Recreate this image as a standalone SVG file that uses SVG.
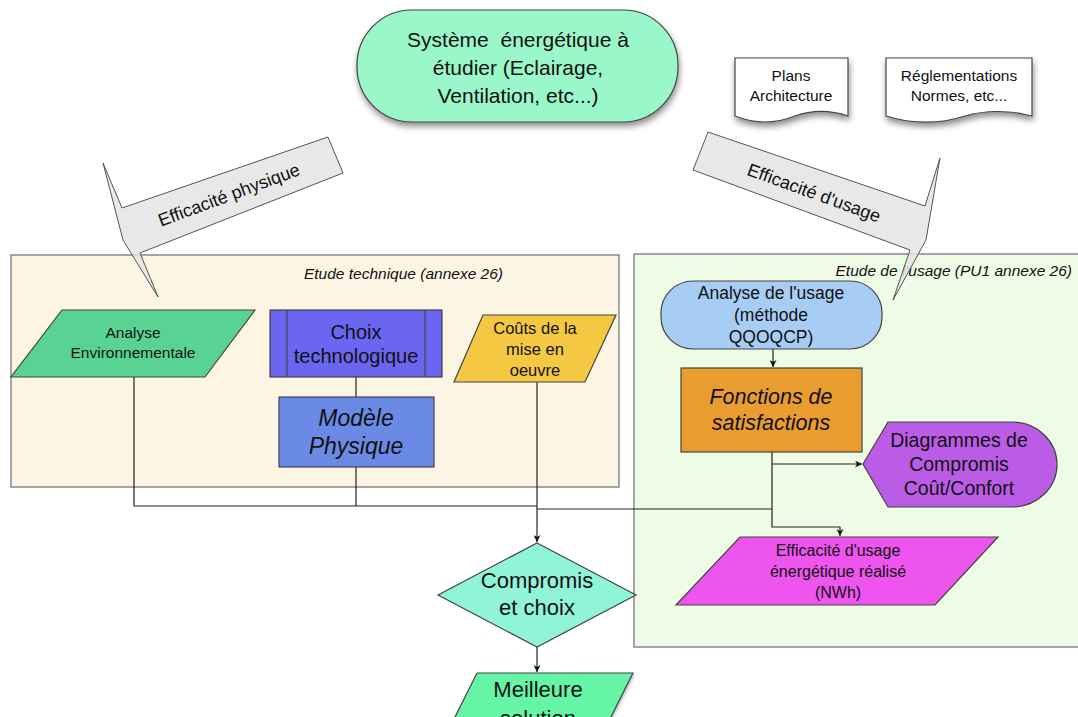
<svg xmlns="http://www.w3.org/2000/svg" width="1078" height="717" viewBox="0 0 1078 717">
<defs>
<style>
text{font-family:"Liberation Sans",Arial,sans-serif;fill:#111;text-anchor:middle}
.it{font-style:italic}
.box{stroke:#444;stroke-width:1.2}
.cont{stroke:#777;stroke-width:1.3}
.conn{fill:none;stroke:#222;stroke-width:1.2}
.call{fill:#e4e4e4;fill-opacity:0.85;stroke:#555;stroke-width:1}
</style>
<filter id="sh" x="-10%" y="-10%" width="130%" height="140%">
<feDropShadow dx="1" dy="4" stdDeviation="3" flood-color="#000" flood-opacity="0.45"/>
</filter>
<filter id="sh2" x="-10%" y="-10%" width="130%" height="140%">
<feDropShadow dx="1" dy="2" stdDeviation="1.5" flood-color="#000" flood-opacity="0.25"/>
</filter>
<marker id="ah" viewBox="0 0 10 10" refX="10" refY="5" markerWidth="7" markerHeight="7" orient="auto" markerUnits="userSpaceOnUse">
<path d="M0,0 L10,5 L0,10 L3,5 Z" fill="#111"/>
</marker>
</defs>

<rect width="1078" height="717" fill="#fff"/>

<!-- containers -->
<g id="etude-technique">
<rect class="cont" x="11" y="255" width="608" height="232" fill="#fdf5e4"/>
<text class="it" x="503" y="279" font-size="15.5" style="text-anchor:end">Etude technique (annexe 26)</text>
</g>
<g id="etude-usage">
<rect class="cont" x="634" y="254" width="460" height="393" fill="#eefce5"/>
<text class="it" x="1072" y="276" font-size="15.5" style="text-anchor:end">Etude de l'usage (PU1 annexe 26)</text>
</g>

<!-- top node -->
<g id="systeme">
<rect class="box" x="357" y="10" width="321" height="112" rx="55" ry="55" fill="#9af7c9" filter="url(#sh)"/>
<text x="518" y="47" font-size="21">Système&#160; énergétique à</text>
<text x="518" y="75" font-size="21">étudier (Eclairage,</text>
<text x="518" y="103" font-size="21">Ventilation, etc...)</text>
</g>

<g id="plans">
<path class="box" d="M735,58 H848 V116 C830,110 812,110 795,116 C775,124 755,124 735,116 Z" fill="#fff" filter="url(#sh)"/>
<text x="791" y="81" font-size="15.5">Plans</text>
<text x="791" y="101" font-size="15.5">Architecture</text>
</g>
<g id="reglementations">
<path class="box" d="M886,58 H1032 V116 C1010,110 985,110 965,116 C940,124 912,124 886,116 Z" fill="#fff" filter="url(#sh)"/>
<text x="959" y="81" font-size="15.5">Réglementations</text>
<text x="959" y="101" font-size="15.5">Normes, etc...</text>
</g>

<!-- callouts -->
<g id="efficacite-physique">
<polygon class="call" points="103,163 122,208 328,137 343,173 140,253 158,297 123,240"/>
<text x="229" y="201" font-size="18" transform="rotate(-20.5 229 195)">Efficacité physique</text>
</g>
<g id="efficacite-usage">
<polygon class="call" points="708,132 925,206 940,158 926,240 893,300 910,250 693,170"/>
<text x="814" y="199" font-size="18" transform="rotate(20 814 193)">Efficacité d'usage</text>
</g>

<!-- connectors -->
<g id="connectors">
<path class="conn" d="M134,377 V506 H537"/>
<path class="conn" d="M356,377 V397"/>
<path class="conn" d="M356,467 V506"/>
<path class="conn" d="M537,382 V542" marker-end="url(#ah)"/>
<path class="conn" d="M772,452 V527 H840 V536" marker-end="url(#ah)"/>
<path class="conn" d="M772,509 H537"/>
<path class="conn" d="M772,464 H862" marker-end="url(#ah)"/>
<path class="conn" d="M773,349 V367" marker-end="url(#ah)"/>
<path class="conn" d="M537,647 V672" marker-end="url(#ah)"/>
</g>

<!-- technique nodes -->
<g id="analyse-env">
<polygon class="box" points="62,310 255,310 205,377 11,377" fill="#58d393"/>
<text x="133" y="338" font-size="15.5">Analyse</text>
<text x="133" y="358" font-size="15.5">Environnementale</text>
</g>
<g id="choix-techno">
<rect class="box" x="270" y="310" width="172" height="67" fill="#6b66f2"/>
<line class="box" x1="287" y1="310" x2="287" y2="377"/>
<line class="box" x1="425" y1="310" x2="425" y2="377"/>
<text x="356" y="339" font-size="20">Choix</text>
<text x="356" y="363" font-size="20">technologique</text>
</g>
<g id="modele-physique">
<rect class="box" x="279" y="397" width="155" height="70" fill="#6b8ae6"/>
<text class="it" x="356" y="426" font-size="23">Modèle</text>
<text class="it" x="356" y="454" font-size="23">Physique</text>
</g>
<g id="couts">
<polygon class="box" points="483,315 616,315 585,382 454,382" fill="#f5c842"/>
<text x="535" y="334" font-size="16.5">Coûts de la</text>
<text x="535" y="355" font-size="16.5">mise en</text>
<text x="535" y="376" font-size="16.5">oeuvre</text>
</g>

<!-- usage nodes -->
<g id="analyse-usage">
<rect class="box" x="661" y="281" width="221" height="68" rx="32" ry="32" fill="#a7cdf5"/>
<text x="771" y="299" font-size="17.5">Analyse de l'usage</text>
<text x="771" y="321" font-size="17.5">(méthode</text>
<text x="771" y="343" font-size="17.5">QQOQCP)</text>
</g>
<g id="fonctions">
<rect class="box" x="681" y="368" width="181" height="84" fill="#e99c30"/>
<text class="it" x="771" y="404" font-size="21.5">Fonctions de</text>
<text class="it" x="771" y="430" font-size="21.5">satisfactions</text>
</g>
<g id="diagrammes">
<path class="box" d="M863,464 L888,422 H1012 A45,42.5 0 0 1 1012,507 H888 Z" fill="#bb5ce6"/>
<text x="959" y="447" font-size="19.5">Diagrammes de</text>
<text x="959" y="471" font-size="19.5">Compromis</text>
<text x="959" y="495" font-size="19.5">Coût/Confort</text>
</g>
<g id="efficacite-realise">
<polygon class="box" points="740,537 998,537 935,605 676,605" fill="#ee55ee"/>
<text x="838" y="556" font-size="16">Efficacité d'usage</text>
<text x="838" y="577" font-size="16">énergétique réalisé</text>
<text x="838" y="598" font-size="16">(NWh)</text>
</g>

<!-- decision -->
<g id="compromis">
<polygon class="box" points="537,543 636,595 537,647 438,595" fill="#90f5d8"/>
<text x="537" y="588" font-size="22">Compromis</text>
<text x="537" y="615" font-size="22">et choix</text>
</g>
<g id="meilleure">
<polygon class="box" points="477,673 633,673 598,743 442,743" fill="#66f5a6" filter="url(#sh2)"/>
<text x="538" y="697" font-size="22">Meilleure</text>
<text x="538" y="726" font-size="22">solution</text>
</g>
</svg>
